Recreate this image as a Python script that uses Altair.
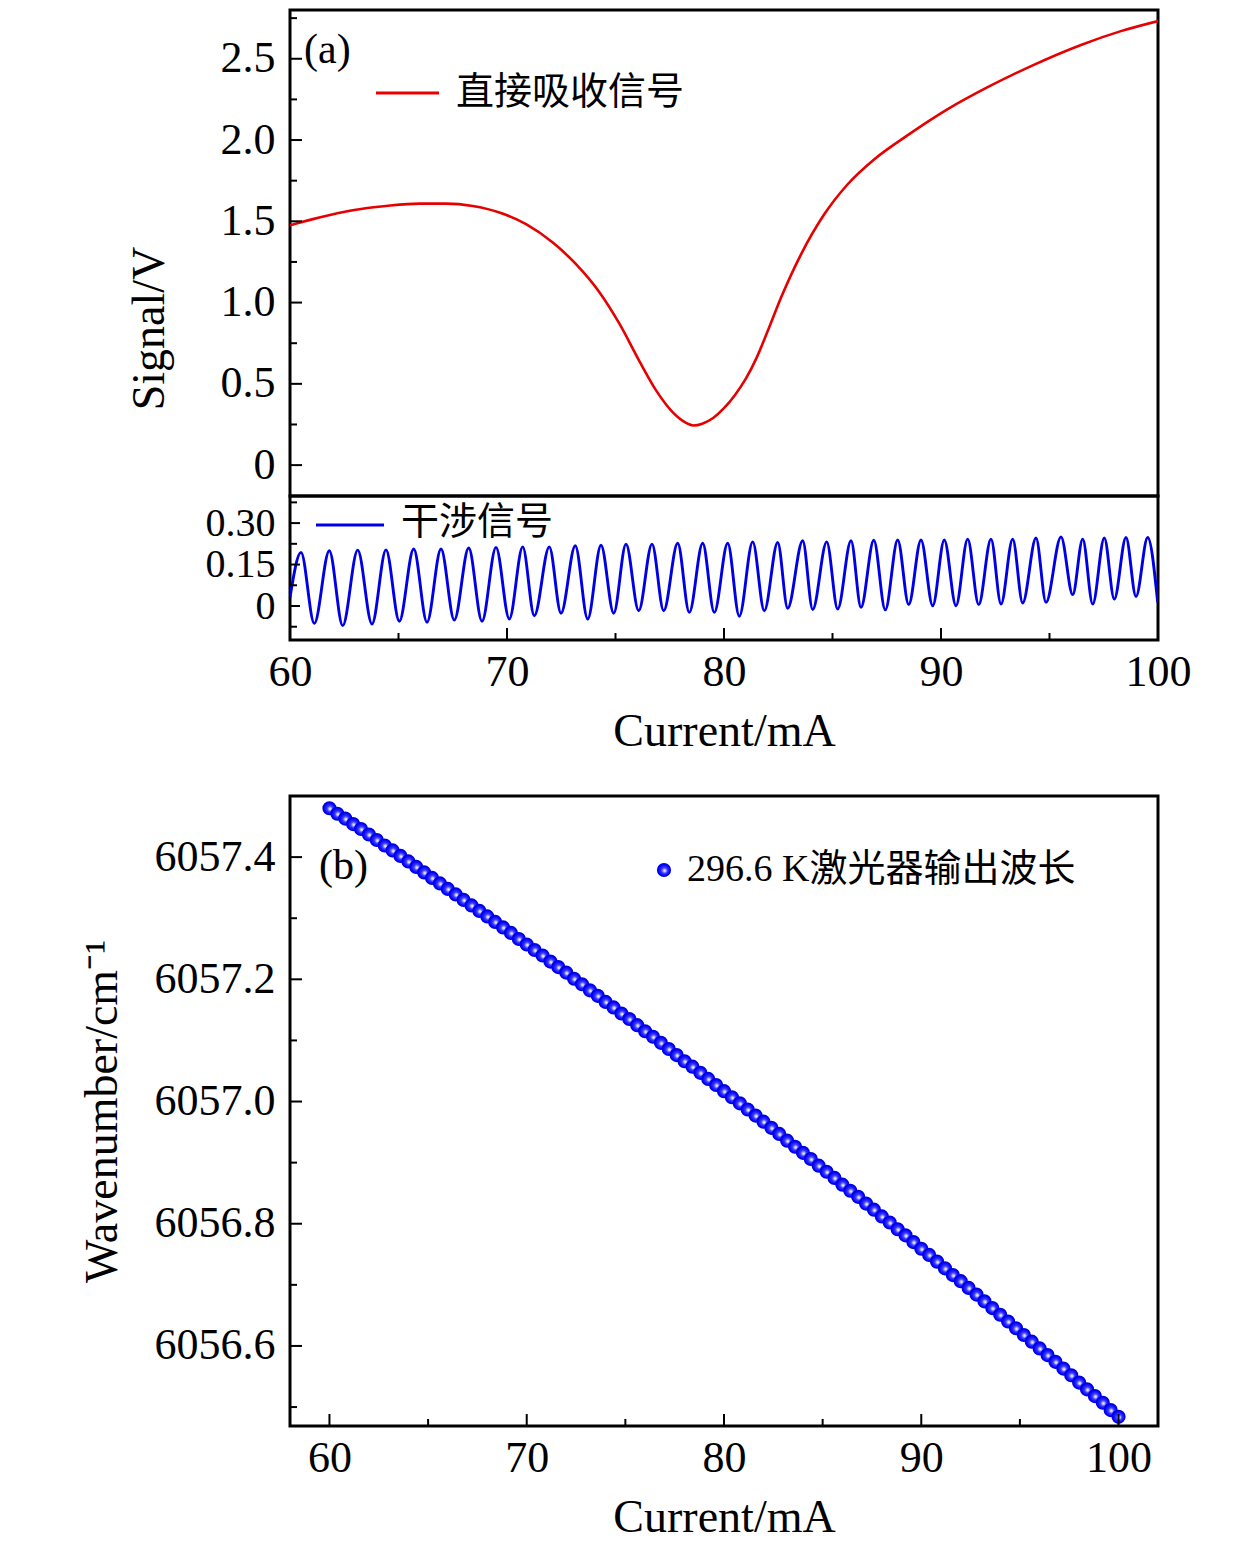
import altair as alt
import pandas as pd

# ---------------- data ----------------
red_current = [60.0, 61.35, 62.89, 64.42, 65.96, 67.19, 68.42, 69.65, 70.88, 72.11, 73.18,
               74.25, 75.18, 76.10, 76.87, 77.64, 78.10, 78.60, 79.00, 79.50, 80.00, 80.50,
               81.00, 81.50, 82.00, 82.63, 83.55, 84.62, 85.70, 86.93, 88.47, 90.31, 92.15,
               94.15, 96.45, 98.29, 100.0]
red_signal = [1.475, 1.523, 1.568, 1.594, 1.609, 1.609, 1.594, 1.554, 1.482, 1.369, 1.236,
              1.065, 0.870, 0.640, 0.460, 0.325, 0.272, 0.244, 0.255, 0.290, 0.350, 0.430,
              0.530, 0.660, 0.820, 1.031, 1.297, 1.543, 1.728, 1.882, 2.030, 2.190, 2.325,
              2.455, 2.585, 2.670, 2.732]

blue_current = [60.000, 60.507, 61.120, 61.811, 62.429, 63.120, 63.779, 64.424, 65.037, 65.700,
                66.313, 66.959, 67.571, 68.235, 68.848, 69.493, 70.106, 70.724, 71.258, 71.949,
                72.488, 73.147, 73.719, 74.332, 74.917, 75.484, 76.069, 76.682, 77.221, 77.866,
                78.401, 79.018, 79.553, 80.171, 80.705, 81.323, 81.857, 82.475, 82.935, 83.627,
                84.088, 84.733, 85.240, 85.853, 86.313, 86.903, 87.433, 88.005, 88.512, 89.078,
                89.618, 90.152, 90.691, 91.230, 91.737, 92.304, 92.765, 93.304, 93.765, 94.378,
                94.839, 95.530, 96.069, 96.530, 96.991, 97.525, 97.986, 98.525, 98.986, 99.525,
                99.986]
blue_signal = [0.031, 0.194, -0.063, 0.200, -0.071, 0.202, -0.065, 0.203, -0.055, 0.206,
               -0.059, 0.206, -0.051, 0.210, -0.055, 0.212, -0.047, 0.214, -0.035, 0.214,
               -0.026, 0.218, -0.047, 0.220, -0.026, 0.224, -0.017, 0.224, -0.017, 0.227,
               -0.023, 0.227, -0.023, 0.227, -0.037, 0.232, -0.017, 0.230, -0.008, 0.236,
               -0.013, 0.232, -0.011, 0.236, -0.005, 0.238, -0.014, 0.239, 0.005, 0.239,
               0.001, 0.239, 0.001, 0.242, 0.005, 0.242, 0.007, 0.242, 0.011, 0.246,
               0.013, 0.250, 0.041, 0.242, 0.007, 0.246, 0.025, 0.248, 0.034, 0.248,
               0.013]

wave_current = [60.0, 60.4, 60.8, 61.2, 61.6, 62.0, 62.4, 62.8, 63.2, 63.6,
                64.0, 64.4, 64.8, 65.2, 65.6, 66.0, 66.4, 66.8, 67.2, 67.6,
                68.0, 68.4, 68.8, 69.2, 69.6, 70.0, 70.4, 70.8, 71.2, 71.6,
                72.0, 72.4, 72.8, 73.2, 73.6, 74.0, 74.4, 74.8, 75.2, 75.6,
                76.0, 76.4, 76.8, 77.2, 77.6, 78.0, 78.4, 78.8, 79.2, 79.6,
                80.0, 80.4, 80.8, 81.2, 81.6, 82.0, 82.4, 82.8, 83.2, 83.6,
                84.0, 84.4, 84.8, 85.2, 85.6, 86.0, 86.4, 86.8, 87.2, 87.6,
                88.0, 88.4, 88.8, 89.2, 89.6, 90.0, 90.4, 90.8, 91.2, 91.6,
                92.0, 92.4, 92.8, 93.2, 93.6, 94.0, 94.4, 94.8, 95.2, 95.6,
                96.0, 96.4, 96.8, 97.2, 97.6, 98.0, 98.4, 98.8, 99.2, 99.6,
                100.0]
wavenumber = [6057.480, 6057.471, 6057.463, 6057.454, 6057.446, 6057.437, 6057.428, 6057.419, 6057.411, 6057.402,
              6057.393, 6057.384, 6057.375, 6057.366, 6057.357, 6057.348, 6057.339, 6057.330, 6057.321, 6057.312,
              6057.303, 6057.294, 6057.285, 6057.276, 6057.266, 6057.257, 6057.248, 6057.239, 6057.229, 6057.220,
              6057.211, 6057.201, 6057.192, 6057.182, 6057.173, 6057.163, 6057.154, 6057.144, 6057.135, 6057.125,
              6057.115, 6057.106, 6057.096, 6057.086, 6057.076, 6057.066, 6057.057, 6057.047, 6057.037, 6057.027,
              6057.017, 6057.007, 6056.997, 6056.987, 6056.977, 6056.967, 6056.957, 6056.947, 6056.936, 6056.926,
              6056.916, 6056.906, 6056.895, 6056.885, 6056.875, 6056.864, 6056.854, 6056.844, 6056.833, 6056.823,
              6056.812, 6056.802, 6056.791, 6056.781, 6056.770, 6056.759, 6056.749, 6056.738, 6056.727, 6056.716,
              6056.706, 6056.695, 6056.684, 6056.673, 6056.662, 6056.651, 6056.640, 6056.629, 6056.618, 6056.607,
              6056.596, 6056.585, 6056.574, 6056.563, 6056.552, 6056.540, 6056.529, 6056.518, 6056.507, 6056.495,
              6056.484]

top_major = [0, 0.5, 1.0, 1.5, 2.0, 2.5]
top_minor = [0.25, 0.75, 1.25, 1.75, 2.25, 2.75]
mid_major = [0, 0.15, 0.30]
mid_minor = [-0.075, 0.075, 0.225, 0.375]
x_major = [60, 70, 80, 90, 100]
x_minor = [65, 75, 85, 95]
wn_major = [6056.6, 6056.8, 6057.0, 6057.2, 6057.4]
wn_minor = [6056.5, 6056.7, 6056.9, 6057.1, 6057.3]

legend_red = "直接吸收信号"
legend_blue = "干涉信号"
legend_wave = "296.6 K激光器输出波长"

# ---------------- styling ----------------
W = 868
H_TOP, H_MID, H_GAP, H_BOT = 486, 144, 156, 630
FONT = "Liberation Serif"
MIXED = "Liberation Serif, Noto Sans CJK SC"
FS = 44
RED = "#e60000"
BLUE = "#0000e6"
MAJ, MIN = 12, 7
DOT = 200

sphere = {
    "gradient": "radial",
    "x1": 0.56, "y1": 0.56, "r1": 0,
    "x2": 0.5, "y2": 0.5, "r2": 0.5,
    "stops": [
        {"offset": 0.0, "color": "#ffffff"},
        {"offset": 0.14, "color": "#d0d0ff"},
        {"offset": 0.4, "color": "#3c3cff"},
        {"offset": 0.8, "color": "#0000ff"},
        {"offset": 1.0, "color": "#0000c8"},
    ],
}


def axis_common(**kw):
    base = dict(ticks=False, tickSize=0, domain=False, grid=False, labelFlush=False,
                labelOverlap=False,
                labelFont=FONT, labelFontSize=FS, labelColor="black",
                titleFont=FONT, titleFontSize=46, titleFontWeight="normal",
                titleColor="black")
    base.update(kw)
    return alt.Axis(**base)


def yticks(values, scale, length):
    return alt.Chart(pd.DataFrame({"v": values})).mark_tick(
        orient="horizontal", size=length, thickness=2, color="black", opacity=1
    ).encode(y=alt.Y("v:Q", scale=scale, axis=None), x=alt.value(length / 2))


def xticks(values, scale, length, height):
    return alt.Chart(pd.DataFrame({"v": values})).mark_tick(
        orient="vertical", size=length, thickness=2, color="black", opacity=1
    ).encode(x=alt.X("v:Q", scale=scale, axis=None), y=alt.value(height - length / 2))


def note(txt, x, y, size=FS, font=MIXED):
    return alt.Chart(pd.DataFrame({"t": [txt]})).mark_text(
        align="left", baseline="middle", font=font, fontSize=size, color="black"
    ).encode(text="t:N", x=alt.value(x), y=alt.value(y))


def legend_line(color, x1, x2, y):
    return alt.Chart(pd.DataFrame({"a": [0]})).mark_rule(color=color, strokeWidth=3).encode(
        x=alt.value(x1), x2=alt.value(x2), y=alt.value(y))


# ---------------- panel (a) top: direct absorption ----------------
xs_a = alt.Scale(domain=[60, 100], nice=False, zero=False)
ys_top = alt.Scale(domain=[-0.19, 2.8], nice=False, zero=False)

red_df = pd.DataFrame({"current": red_current, "signal": red_signal})
top_line = alt.Chart(red_df).mark_line(
    color=RED, strokeWidth=2.6, interpolate="monotone", clip=True
).encode(
    x=alt.X("current:Q", scale=xs_a, axis=None),
    y=alt.Y("signal:Q", scale=ys_top, axis=axis_common(
        orient="left", values=top_major, labelPadding=15,
        labelExpr="datum.value == 0 ? '0' : format(datum.value, '.1f')",
        title="Signal/V", titleX=-141, titleY=318, titleAngle=270,
        titleAlign="center", titleBaseline="middle")),
)
top = alt.layer(
    top_line,
    yticks(top_major, ys_top, MAJ),
    yticks(top_minor, ys_top, MIN),
    note("(a)", 14, 40, size=42, font=FONT),
    legend_line(RED, 86, 149, 83),
    note(legend_red, 166, 83, size=38),
).resolve_axis(x="independent", y="independent").properties(width=W, height=H_TOP)

# ---------------- panel (a) bottom: interference ----------------
ys_mid = alt.Scale(domain=[-0.123, 0.398], nice=False, zero=False)
blue_df = pd.DataFrame({"current": blue_current, "signal": blue_signal})
mid_line = alt.Chart(blue_df).mark_line(
    color=BLUE, strokeWidth=2.9, interpolate="monotone", clip=True
).encode(
    x=alt.X("current:Q", scale=xs_a, axis=axis_common(
        orient="bottom", values=x_major, labelPadding=10, format="d",
        title="Current/mA", titleY=91, titleBaseline="middle")),
    y=alt.Y("signal:Q", scale=ys_mid, axis=axis_common(
        orient="left", values=mid_major, labelPadding=15, labelFontSize=40,
        labelExpr="datum.value == 0 ? '0' : format(datum.value, '.2f')",
        title=None)),
)
mid = alt.layer(
    mid_line,
    yticks(mid_major, ys_mid, MAJ - 2),
    yticks(mid_minor, ys_mid, MIN),
    xticks(x_major, xs_a, MAJ, H_MID),
    xticks(x_minor, xs_a, MIN, H_MID),
    legend_line(BLUE, 26, 94, 29),
    note(legend_blue, 111, 27, size=38),
).resolve_axis(x="independent", y="independent").properties(width=W, height=H_MID)

# ---------------- spacer ----------------
spacer = alt.Chart(pd.DataFrame({"a": [0]})).mark_point(opacity=0).encode(
    x=alt.value(0), y=alt.value(0)
).properties(width=W, height=H_GAP, view=alt.ViewBackground(stroke="transparent"))

# ---------------- panel (b) ----------------
xs_b = alt.Scale(domain=[58, 102], nice=False, zero=False)
ys_b = alt.Scale(domain=[6056.469, 6057.5], nice=False, zero=False)
wave_df = pd.DataFrame({"current": wave_current, "wavenumber": wavenumber})
pts = alt.Chart(wave_df).mark_point(
    shape="circle", filled=True, fill=sphere, size=DOT, opacity=1, strokeWidth=0
).encode(
    x=alt.X("current:Q", scale=xs_b, axis=axis_common(
        orient="bottom", values=x_major, labelPadding=10, format="d",
        title="Current/mA", titleY=91, titleBaseline="middle")),
    y=alt.Y("wavenumber:Q", scale=ys_b, axis=axis_common(
        orient="left", values=wn_major, labelPadding=15, format=".1f",
        title="Wavenumber/cm⁻¹", titleX=-188, titleY=315, titleAngle=270,
        titleAlign="center", titleBaseline="middle")),
)
legend_dot = alt.Chart(pd.DataFrame({"a": [0]})).mark_point(
    shape="circle", filled=True, fill=sphere, size=DOT, opacity=1, strokeWidth=0
).encode(x=alt.value(374), y=alt.value(74))

bottom = alt.layer(
    pts,
    yticks(wn_major, ys_b, MAJ),
    yticks(wn_minor, ys_b, MIN),
    xticks(x_major, xs_b, MAJ, H_BOT),
    xticks(x_minor, xs_b, MIN, H_BOT),
    note("(b)", 29, 70, size=42, font=FONT),
    legend_dot,
    note(legend_wave, 397, 74, size=38),
).resolve_axis(x="independent", y="independent").properties(width=W, height=H_BOT)

chart = alt.vconcat(top, mid, spacer, bottom, spacing=0, bounds="flush").properties(
    padding={"left": 69, "top": 0, "right": 5, "bottom": 0},
    background="white",
).configure_view(stroke="black", strokeWidth=3)

chart.save("out.html", embed_options={"renderer": "svg", "actions": False})
